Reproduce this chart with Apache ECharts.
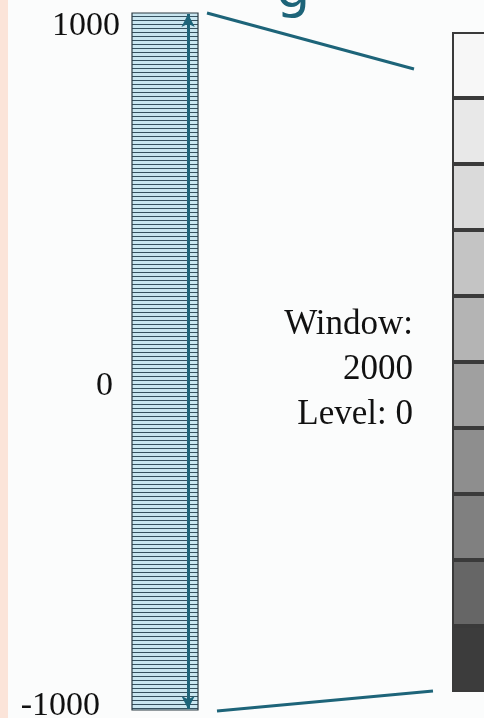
<!DOCTYPE html>
<html>
<head>
<meta charset="utf-8">
<script src="https://cdn.jsdelivr.net/npm/echarts@6/dist/echarts.min.js"></script>
<style>
  html, body { margin: 0; padding: 0; background: #fbfcfc; }
  #chart { width: 484px; height: 718px; }
</style>
</head>
<body>
<div id="chart"></div>
<script>
// values on the scale bar
const scaleTicks = [1000, 0, -1000];
const windowRange = [-1000, 1000];
const windowWidth = 2000;
const windowLevel = 0;
// grey level of each display step, top to bottom
const greyLevels = [247, 232, 218, 196, 180, 160, 142, 128, 102, 60];
const greyIndex = greyLevels.map((g, i) => 'step' + (i + 1));

const serif = '"Liberation Serif", "Times New Roman", serif';
const teal = '#1d6479';

// hatch pattern for the scale bar
const hatch = document.createElement('canvas');
hatch.width = 4;
hatch.height = 4;
const hctx = hatch.getContext('2d');
hctx.fillStyle = '#c9e6f0';
hctx.fillRect(0, 0, 4, 4);
hctx.fillStyle = '#35505e';
hctx.fillRect(0, 0, 4, 1);

const labelStyle = {
  top: { padding: [26, 0, 0, 0] },
  mid: { padding: [49, 7, 0, 0] },
  bot: { padding: [0, 20, 8, 0] }
};

const myChart = echarts.init(document.getElementById('chart'));
const option = {
  backgroundColor: '#fbfcfc',
  animation: false,
  grid: [
    { left: 132, top: 13, width: 66, height: 697, outerBoundsMode: 'none' },
    { left: 452, top: 32, width: 80, height: 660, outerBoundsMode: 'none' }
  ],
  xAxis: [
    { gridIndex: 0, type: 'value', min: 0, max: 1, show: false },
    { gridIndex: 1, type: 'value', min: 0, max: 1, show: false }
  ],
  yAxis: [
    {
      gridIndex: 0, type: 'value', min: windowRange[0], max: windowRange[1], interval: 1000,
      axisLine: { show: false }, axisTick: { show: false }, splitLine: { show: false },
      axisLabel: {
        margin: 12,
        fontFamily: serif,
        fontSize: 34,
        color: '#111',
        formatter: v => {
          const k = v === scaleTicks[0] ? 'top' : (v === scaleTicks[1] ? 'mid' : 'bot');
          return '{' + k + '|' + v + '}';
        },
        rich: labelStyle
      }
    },
    {
      gridIndex: 1, type: 'category', data: greyIndex, inverse: true, show: false
    }
  ],
  series: [
    {
      type: 'custom',
      xAxisIndex: 0,
      yAxisIndex: 0,
      data: [windowRange],
      renderItem: (params, api) => {
        const p0 = api.coord([0, api.value(1)]);
        const p1 = api.coord([1, api.value(0)]);
        return {
          type: 'rect',
          shape: { x: p0[0], y: p0[1], width: p1[0] - p0[0], height: p1[1] - p0[1] },
          style: { fill: { image: hatch, repeat: 'repeat' }, stroke: '#2c3a42', lineWidth: 1.2 }
        };
      },
      markLine: {
        silent: true,
        symbol: ['arrow', 'arrow'],
        symbolSize: [10, 13],
        label: { show: false },
        lineStyle: { color: teal, width: 3, type: 'solid' },
        data: [[{ coord: [0.85, windowRange[1] - 3] }, { coord: [0.85, windowRange[0] + 3] }]]
      }
    },
    {
      type: 'bar',
      xAxisIndex: 1,
      yAxisIndex: 1,
      barWidth: '100%',
      data: greyLevels.map(g => ({
        value: 1,
        itemStyle: { color: 'rgb(' + g + ',' + g + ',' + g + ')' }
      })),
      itemStyle: { borderColor: '#3a3a3a', borderWidth: 2 }
    }
  ],
  graphic: [
    { type: 'rect', left: 0, top: 0, shape: { width: 8, height: 718 }, style: { fill: '#fbe4d9' } },
    {
      type: 'text', x: 276, y: -34,
      style: { text: 'g', font: '54px "DejaVu Sans", sans-serif', fill: teal }
    },
    { type: 'line', shape: { x1: 207, y1: 13, x2: 414, y2: 69 }, style: { stroke: teal, lineWidth: 3 } },
    { type: 'line', shape: { x1: 217, y1: 711, x2: 433, y2: 691 }, style: { stroke: teal, lineWidth: 3 } },
    {
      type: 'text', x: 413, y: 325,
      style: { text: 'Window:', font: '35px ' + serif, fill: '#111', align: 'right', verticalAlign: 'middle' }
    },
    {
      type: 'text', x: 413, y: 370,
      style: { text: String(windowWidth), font: '35px ' + serif, fill: '#111', align: 'right', verticalAlign: 'middle' }
    },
    {
      type: 'text', x: 413, y: 415,
      style: { text: 'Level: ' + windowLevel, font: '35px ' + serif, fill: '#111', align: 'right', verticalAlign: 'middle' }
    }
  ]
};
myChart.setOption(option);
</script>
</body>
</html>
